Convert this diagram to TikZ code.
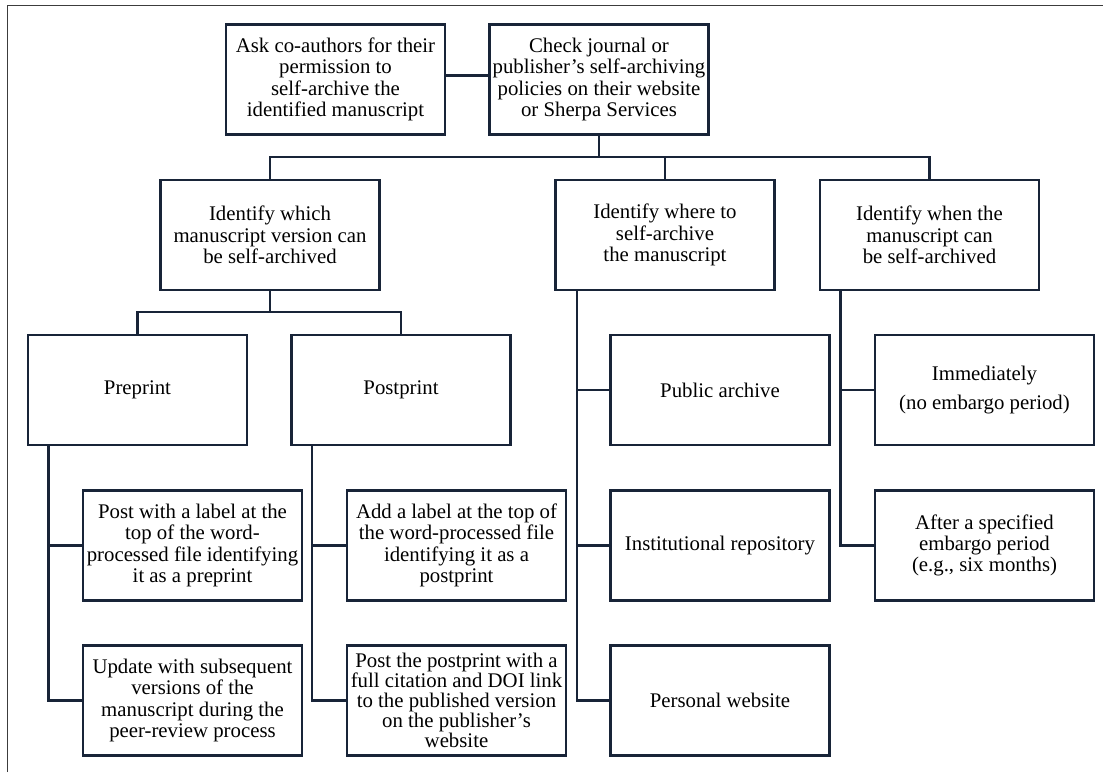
\documentclass[tikz,border=0pt]{standalone}
\usepackage{fontspec}
\setmainfont{Liberation Serif}
\definecolor{boxc}{RGB}{24,36,56}
\definecolor{framec}{RGB}{60,60,60}
\begin{document}
\begin{tikzpicture}[x=1pt,y=-1pt,
  box/.style={draw=boxc,line width=2.8pt,minimum width=219pt,minimum height=110pt,inner sep=0pt,align=center,font=\fontsize{20.8}{21.3}\selectfont,text=black},
  link/.style={draw=boxc,line width=2.3pt}]
\useasboundingbox (0,0) rectangle (1103,772);
\draw[framec,line width=1.8pt] (7.5,772) coordinate (fb) -- (7.5,5.5) coordinate (fc) -- (1103,5.5) coordinate (fe);

\node[box] (ask) at (335.5,79.5) {Ask co-authors for their\\permission to\\self-archive the\\identified manuscript};
\node[box] (check) at (599,79.5) {Check journal or\\publisher’s self-archiving\\policies on their website\\or Sherpa Services};

\node[box] (which) at (270,235) {Identify which\\manuscript version can\\be self-archived};
\node[box] (where) at (665,235) {Identify where to\\self-archive\\the manuscript};
\node[box] (when) at (929.5,235) {Identify when the\\manuscript can\\be self-archived};

\node[box] (pre) at (137.5,390) {Preprint};
\node[box] (post) at (401,390) {Postprint};
\node[box] (publ) at (720,390) {Public archive};
\node[box] (imm) at (984.5,390) {Immediately\\[7pt](no embargo period)};

\node[box] (prelab) at (192.5,545.5) {Post with a label at the\\top of the word-\\processed file identifying\\it as a preprint};
\node[box] (postlab) at (456.5,545.5) {Add a label at the top of\\the word-processed file\\identifying it as a\\postprint};
\node[box] (inst) at (720,545.5) {Institutional repository};
\node[box] (after) at (984.5,545.5) {After a specified\\embargo period\\(e.g., six months)};

\node[box] (upd) at (192.5,700.5) {Update with subsequent\\versions of the\\manuscript during the\\peer-review process};
\node[box,font=\fontsize{20.8}{20}\selectfont] (postfull) at (456.5,700.5) {Post the postprint with a\\full citation and DOI link\\to the published version\\on the publisher’s\\website};
\node[box] (pers) at (720,700.5) {Personal website};

% top row
\draw[link] ([yshift=4pt]ask.east) -- ([yshift=4pt]check.west);
\coordinate (b1) at (0,157);
\draw[link] (check.south) -- (check.south |- b1);
\draw[link] (which.north) -- (which.north |- b1) -- (when.north |- b1) -- (when.north);
\draw[link] (where.north) -- (where.north |- b1);

% which -> pre/post
\coordinate (b2) at (0,312);
\draw[link] (which.south) -- (which.south |- b2);
\draw[link] (pre.north) -- (pre.north |- b2) -- (post.north |- b2) -- (post.north);

% preprint branch
\coordinate (pv) at ([xshift=22pt]pre.south west);
\draw[link] (pv) |- (upd.west);
\draw[link] (pv |- prelab.west) -- (prelab.west);

% postprint branch
\coordinate (qv) at ([xshift=22pt]post.south west);
\draw[link] (qv) |- (postfull.west);
\draw[link] (qv |- postlab.west) -- (postlab.west);

% where branch
\coordinate (wv) at ([xshift=23pt]where.south west);
\draw[link] (wv) |- (pers.west);
\draw[link] (wv |- publ.west) -- (publ.west);
\draw[link] (wv |- inst.west) -- (inst.west);

% when branch
\coordinate (nv) at ([xshift=22pt]when.south west);
\draw[link] (nv) |- (after.west);
\draw[link] (nv |- imm.west) -- (imm.west);
\end{tikzpicture}
\end{document}
